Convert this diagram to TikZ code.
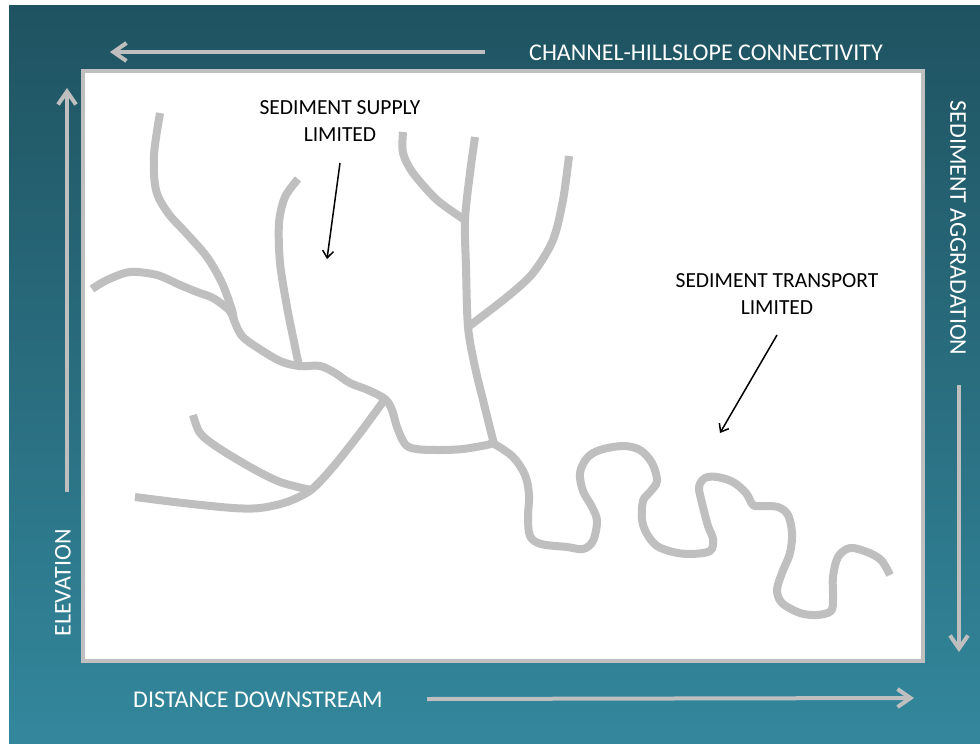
\documentclass[tikz,border=0pt]{standalone}
\usepackage{fontspec}
\setmainfont{Carlito}
\usetikzlibrary{arrows.meta}
\definecolor{rivergray}{HTML}{BFBFBF}
\definecolor{tealtop}{HTML}{1F5361}
\definecolor{tealmid}{HTML}{3193A7}
\definecolor{teallow}{HTML}{33879C}

\begin{document}
\begin{tikzpicture}[x=1pt,y=-1pt,
		river/.style={draw=rivergray,line width=8pt},
		axis/.style={draw=rivergray,line width=4pt,-{Straight Barb[length=13pt,width=18pt]}},
		axis label/.style={text=white,inner sep=0pt,font=\fontsize{24}{28}\selectfont},
		regime/.style={align=center,inner sep=0pt,font=\fontsize{21.5}{27}\selectfont},
		pointer/.style={line width=1.5pt,-{Straight Barb[length=7pt,width=11pt]}}]
		\useasboundingbox (0,0) rectangle (980,744);
		\fill[white] (0,0) rectangle (980,744);
		\shade[top color=tealtop,middle color=tealmid,bottom color=teallow] (9,5) rectangle (980,744);
		\draw[rivergray,line width=4pt,fill=white] (83,71) rectangle (923,661);
		% axes round the frame
		\node[axis label] (connect) at (706,53) {CHANNEL-HILLSLOPE CONNECTIVITY};
		\node[axis label,rotate=90] (elev) at (63,583) {ELEVATION};
		\node[axis label] (dist) at (258,700) {DISTANCE DOWNSTREAM};
		\node[axis label,rotate=-90] (aggr) at (958,228) {SEDIMENT AGGRADATION};
		\coordinate (connect tail) at (485,52);
		\coordinate (connect tip) at (110,52);
		\coordinate (elev tail) at (67,492);
		\coordinate (elev tip) at (67,88);
		\coordinate (dist tail) at (427,699);
		\coordinate (dist tip) at (914,698);
		\coordinate (aggr tail) at (959,385);
		\coordinate (aggr tip) at (959,652);
		\draw[axis] (connect tail) -- (connect tip);
		\draw[axis] (elev tail) -- (elev tip);
		\draw[axis] (dist tail) -- (dist tip);
		\draw[axis] (aggr tail) -- (aggr tip);
		% junctions of the network
		\coordinate (jAC) at (234,320);
		\coordinate (jB) at (299,366);
		\coordinate (jH) at (385,399);
		\coordinate (jE) at (494,444);
		\coordinate (jF) at (465,220);
		\coordinate (jG) at (468,327);
		\coordinate (jD) at (311,490);
		% main channel
		\draw[river] plot[smooth,tension=0.55] coordinates {
			(160,113) (154,155) (156,190) (168,213) (187,234) (207,257) (222,283) (232,310) (jAC)
			(242,336) (258,348) (280,361) (jB) (320,366) (335,373) (350,383) (368,390) (jH)
			(392,410) (397,427) (405,444) (416,449) (440,450) (463,449) (487,445) (jE)
			(513,457) (525,475) (529,495) (528,517) (530,536) (541,544) (567,547) (583,549)
			(593,541) (597,521) (592,507) (583,491) (580,473) (587,458) (600,450) (623,446)
			(640,450) (652,463) (657,481) (650,492) (643,501) (642,520) (647,534) (657,546)
			(673,552) (690,554) (710,551) (713,539) (708,526) (702,503) (699,487) (705,478)
			(717,477) (733,482) (746,493) (753,505) (763,506) (778,507) (788,515) (792,533)
			(790,553) (782,573) (777,590) (782,603) (800,613) (817,615) (831,611) (833,598)
			(833,577) (838,557) (850,548) (867,552) (881,560) (890,575)};
		% tributaries
		\draw[river] plot[smooth] coordinates {(92,289) (107,280) (130,272) (157,275) (180,285) (197,292) (213,298) (229,310) (jAC)};
		\draw[river] plot[smooth] coordinates {(298,179) (285,197) (279,223) (280,263) (287,307) (293,337) (jB)};
		\draw[river] plot[smooth] coordinates {(475,137) (470,173) (jF) (466,267) (jG) (475,367) (483,400) (jE)};
		\draw[river] plot[smooth] coordinates {(403,132) (403,153) (413,173) (437,200) (jF)};
		\draw[river] plot[smooth] coordinates {(569,156) (563,200) (553,240) (533,273) (507,297) (jG)};
		\draw[river] plot[smooth] coordinates {(jH) (360,433) (333,467) (jD) (287,502) (260,508) (233,508) (183,503) (135,497)};
		\draw[river] plot[smooth] coordinates {(193,415) (200,433) (217,447) (250,467) (280,482) (jD)};
		% regime labels
		\node[regime] (supply) at (340,121) {SEDIMENT SUPPLY\\LIMITED};
		\node[regime] (transport) at (777,294) {SEDIMENT TRANSPORT\\LIMITED};
		\coordinate (supply tail) at (340,163);
		\coordinate (supply tip) at (327,259);
		\coordinate (transport tail) at (777,335);
		\coordinate (transport tip) at (720,433);
		\draw[pointer] (supply tail) -- (supply tip);
		\draw[pointer] (transport tail) -- (transport tip);
\end{tikzpicture}
\end{document}
